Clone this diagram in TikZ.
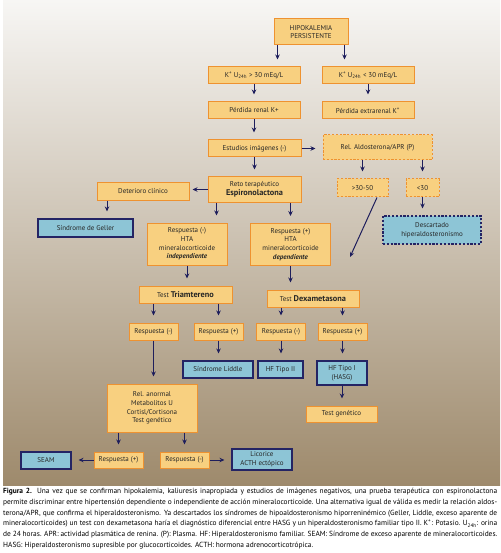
\documentclass[tikz,border=0pt]{standalone}
\usepackage{fontspec}
\setmainfont{PT Sans}
\definecolor{flowfill}{RGB}{248,208,128}
\definecolor{flowedge}{RGB}{238,146,48}
\definecolor{dxfill}{RGB}{141,197,214}
\definecolor{dxedge}{RGB}{36,36,100}
\definecolor{arrnavy}{RGB}{30,30,92}
\definecolor{bgtop}{RGB}{247,246,244}
\definecolor{bgmid}{RGB}{195,188,179}
\definecolor{bgbot}{RGB}{158,138,108}
\usetikzlibrary{arrows.meta}
\tikzset{
  flow/.style={rectangle,draw=flowedge,fill=flowfill,line width=1pt,
               text=black!85,minimum height=17pt,inner sep=1pt,
               font=\fontsize{7}{8.8}\selectfont,align=center},
  dx/.style={flow,draw=dxedge,fill=dxfill,line width=1.1pt},
  guess/.style={dash pattern=on 2.2pt off 1.6pt},
  arr/.style={-{Stealth[length=5pt,width=4.5pt]},line width=1pt,
              arrnavy,shorten >=7pt},
}
\newcommand{\fuerte}[1]{{\fontsize{8.3}{9.5}\selectfont\bfseries #1}}

\begin{document}
\begin{tikzpicture}[x=1pt,y=1pt]
  \useasboundingbox (0,0) rectangle (500,-553);
  \shade[top color=bgtop,middle color=bgmid,bottom color=bgbot]
        (3,0) rectangle (500,-485);

  % first steps
  \node[flow,minimum width=74pt,minimum height=26pt] (hipo) at (311,-32)
       {HIPOKALEMIA\\PERSISTENTE};
  \node[flow,minimum width=92pt] (kmas) at (254,-75.5)
       {K\textsuperscript{+} U\textsubscript{24h} > 30 mEq/L};
  \node[flow,minimum width=92pt] (kmenos) at (368,-75.5)
       {K\textsuperscript{+} U\textsubscript{24h} < 30 mEq/L};
  \node[flow,minimum width=92pt] (renal) at (254,-110.5) {Pérdida renal K+};
  \node[flow,minimum width=92pt] (extra) at (368,-110.5)
       {Pérdida extrarenal K\textsuperscript{+}};
  \node[flow,minimum width=93pt] (imag) at (254.5,-148.5) {Estudios imágenes (-)};
  \node[flow,minimum width=93pt,minimum height=25pt] (reto) at (254.5,-189.5)
       {Reto terapéutico\\\fuerte{Espironolactona}};
  \node[flow,minimum width=92pt] (deter) at (143,-191.5) {Deterioro clínico};
  \node[dx,minimum width=95pt,minimum height=18pt] (geller) at (85.5,-228)
       {Síndrome de Geller};

  % aldosterone branch
  \node[flow,guess,minimum width=109pt,minimum height=25pt] (aldo) at (377.5,-147.5)
       {Rel. Aldosterona/APR (P)};
  \node[flow,guess,minimum width=51pt,minimum height=18pt] (medio) at (362.5,-188)
       {>30-50};
  \node[flow,guess,minimum width=33pt,minimum height=18pt] (bajo) at (422.5,-188)
       {<30};
  \node[dx,guess,minimum width=98pt,minimum height=28pt] (descarta) at (432,-230)
       {Descartado\\hiperaldosteronismo};
  \coordinate (libre) at (350,-257);

  % response to spironolactone
  \node[flow,minimum width=80pt,minimum height=42pt] (indep) at (187,-244)
       {Respuesta (-)\\HTA\\mineralocorticoide\\\textbf{\textit{independiente}}};
  \node[flow,minimum width=80pt,minimum height=42pt] (dep) at (290.5,-244.5)
       {Respuesta (+)\\HTA\\mineralocorticoide\\\textbf{\textit{dependiente}}};
  \node[flow,minimum width=93pt] (triam) at (185.5,-294.5) {Test \fuerte{Triamtereno}};
  \node[flow,minimum width=92pt] (dexa) at (313,-298.5) {Test \fuerte{Dexametasona}};

  \node[flow,minimum width=49pt] (trimenos) at (153.5,-331.5) {Respuesta (-)};
  \node[flow,minimum width=49pt] (trimas) at (218.5,-331.5) {Respuesta (+)};
  \node[flow,minimum width=49pt] (dexmenos) at (281,-331.5) {Respuesta (-)};
  \node[flow,minimum width=49pt] (dexmas) at (342.5,-331.5) {Respuesta (+)};

  \node[dx,minimum width=70pt] (liddle) at (218,-369.5) {Síndrome Liddle};
  \node[dx,minimum width=45pt] (hfdos) at (280.5,-369.5) {HF Tipo II};
  \node[dx,minimum width=50pt,minimum height=24pt] (hfuno) at (342,-373)
       {HF Tipo I\\(HASG)};
  \node[flow,minimum width=71pt,minimum height=16pt] (gen) at (341.5,-414)
       {Test genético};

  % last steps
  \node[flow,minimum width=90pt,minimum height=48pt] (anormal) at (152,-408)
       {Rel. anormal\\Metabolitos U\\Cortisl/Cortisona\\Test genético};
  \node[flow,minimum width=49pt,minimum height=16pt] (finmas) at (118.5,-460)
       {Respuesta (+)};
  \node[flow,minimum width=49pt,minimum height=16pt] (finmenos) at (184.5,-460)
       {Respuesta (-)};
  \node[dx,minimum width=50pt] (seam) at (46,-460.5) {SEAM};
  \node[dx,minimum width=60pt,minimum height=21pt] (licor) at (262,-459.5)
       {Licorice\\ACTH ectópico};

  % arrows
  \draw[arr] ([xshift=4pt]hipo.south west) -- ([xshift=4pt]hipo.south west |- kmas.north);
  \draw[arr] ([xshift=-4pt]hipo.south east) -- ([xshift=-4pt]hipo.south east |- kmenos.north);
  \foreach \a/\b in {kmas/renal, kmenos/extra, renal/imag, imag/reto, bajo/descarta,
                     indep/triam, dep/dexa, trimas/liddle, dexmenos/hfdos,
                     dexmas/hfuno, hfuno/gen, trimenos/anormal}
    \draw[arr] (\a.south) -- (\a.south |- \b.north);
  \foreach \a/\b in {reto/dep, aldo/medio, aldo/bajo, triam/trimenos, triam/trimas,
                     dexa/dexmenos, dexa/dexmas, anormal/finmas, anormal/finmenos}
    \draw[arr] (\b.north |- \a.south) -- (\b.north);
  \draw[arr] ([xshift=9pt]reto.south west) -- ([xshift=9pt]reto.south west |- indep.north);
  \draw[arr] (imag.east) -- (imag.east -| aldo.west);
  \draw[arr,shorten >=3pt] (reto.west) -- (reto.west -| deter.east);
  \draw[arr] ([xshift=-36pt]deter.south) -- ([xshift=-36pt]deter.south |- geller.north);
  \draw[arr,shorten >=0pt] ([xshift=14.5pt]medio.south) -- (libre);
  \draw[arr] (finmas.west) -- (finmas.west -| seam.east);
  \draw[arr] (finmenos.east) -- (finmenos.east -| licor.west);

  % caption
  \node[anchor=north west,text width=494pt,align=justify,inner sep=0pt,
        font=\fontsize{7.4}{10.8}\selectfont] (pie) at (3,-488)
  {\hyphenpenalty=10000\tolerance=9999
   \textbf{Figura 2.} Una vez que se confirman hipokalemia, kaliuresis inapropiada y estudios de imágenes negativos, una prueba terapéutica con espironolactona\linebreak
   permite discriminar entre hipertensión dependiente o independiente de acción mineralocorticoide. Una alternativa igual de válida es medir la relación aldos-\linebreak
   terona/APR, que confirma el hiperaldosteronismo. Ya descartados los síndromes de hipoaldosteronismo hiporreninémico (Geller, Liddle, exceso aparente de\linebreak
   mineralocorticoides) un test con dexametasona haría el diagnóstico diferencial entre HASG y un hiperaldosteronismo familiar tipo II. K\textsuperscript{+}: Potasio. U\textsubscript{24h}: orina\linebreak
   de 24 horas. APR: actividad plasmática de renina. (P): Plasma. HF: Hiperaldosteronismo familiar. SEAM: Síndrome de exceso aparente de mineralocorticoides.\linebreak
   HASG: Hiperaldosteronismo supresible por glucocorticoides. ACTH: hormona adrenocorticotrópica.};
\end{tikzpicture}
\end{document}
